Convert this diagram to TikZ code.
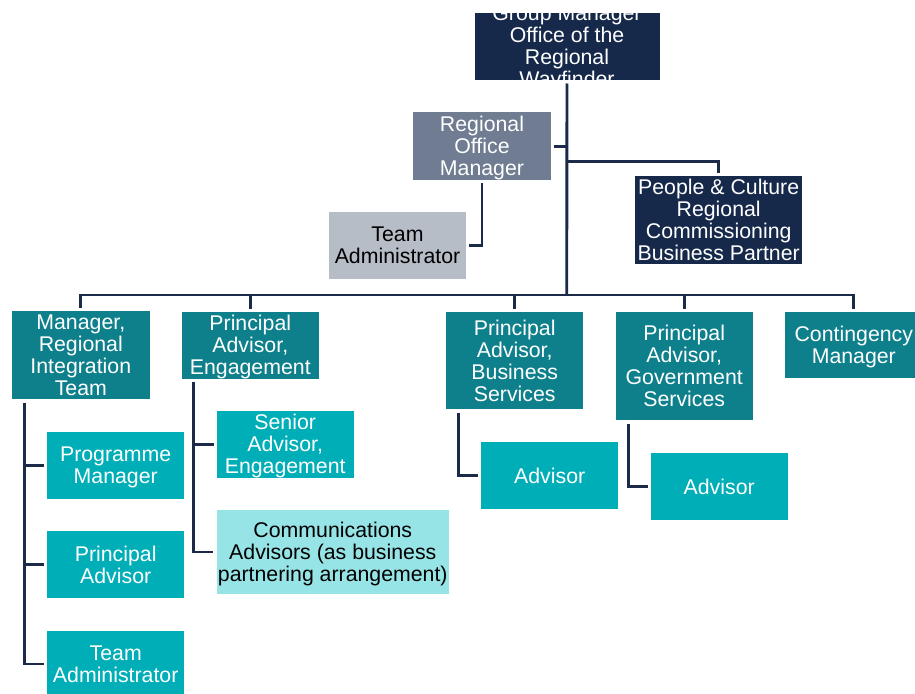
\documentclass[tikz,border=0pt]{standalone}
\usepackage{fontspec}
\setmainfont{Liberation Sans}
\definecolor{navy}{HTML}{16294A}
\definecolor{linec}{HTML}{1B2A48}
\definecolor{slate}{HTML}{6F7C91}
\definecolor{lgrey}{HTML}{B7BDC7}
\definecolor{dteal}{HTML}{0E808C}
\definecolor{teal}{HTML}{00AEB8}
\definecolor{lcyan}{HTML}{97E4E7}
\newcommand{\ls}{\rule[-3.5pt]{0pt}{22pt}}
\newcommand{\boxfont}{\fontsize{21.3}{22}\selectfont\lineskiplimit=-30pt\relax\lineskip=0pt\relax}
\begin{document}
\begin{tikzpicture}[x=1pt,y=-1pt,
  box/.style={rectangle, inner sep=0pt, align=center, text=white,
    font=\boxfont},
  conn/.style={draw=linec, line width=2.9pt},
  gap/.style={shorten <=3pt, shorten >=3pt}]
\clip (0,0) rectangle (915,693);
\fill[white] (0,0) rectangle (915,693);

% top box with clipped text
\node[box, fill=navy, minimum width=185pt, minimum height=67pt,
  path picture={\node[box] at (path picture bounding box.center)
    {\ls Group Manager\\Office of the\\Regional\\Wayfinder\ls};}] (top) at (567,46.8) {};

\node[box, fill=slate, minimum width=137.4pt, minimum height=67.7pt] (rom) at (482,146.2) {\ls Regional\\Office\\Manager\ls};
\node[box, fill=lgrey, text=black, minimum width=137pt, minimum height=66.7pt] (ta1) at (397.5,245.3) {\ls Team\\Administrator\ls};
\node[box, fill=navy, minimum width=167.3pt, minimum height=86pt] (pc) at (718.7,220.3) {\ls People \& Culture\\Regional\\Commissioning\\Business Partner\ls};

\node[box, fill=dteal, minimum width=137.7pt, minimum height=87.3pt] (mgr) at (80.8,355.3) {\ls Manager,\\Regional\\Integration\\Team\ls};
\node[box, fill=dteal, minimum width=137.3pt, minimum height=67pt] (pae) at (250.3,345.2) {\ls Principal\\Advisor,\\Engagement\ls};
\node[box, fill=dteal, minimum width=137.3pt, minimum height=97.6pt] (pabs) at (514.7,360.5) {\ls Principal\\Advisor,\\Business\\Services\ls};
\node[box, fill=dteal, minimum width=137pt, minimum height=108.6pt] (pags) at (684.2,366) {\ls Principal\\Advisor,\\Government\\Services\ls};
\node[box, fill=dteal, minimum width=137.6pt, minimum height=66.6pt] (cont) at (853.8,345) {\ls Contingency\\Manager\ls};

\node[box, fill=teal, minimum width=137.3pt, minimum height=67.3pt] (pm) at (115.7,465.3) {\ls Programme\\Manager\ls};
\node[box, fill=teal, minimum width=137.3pt, minimum height=67.3pt] (pa) at (115.7,564.7) {\ls Principal\\Advisor\ls};
\node[box, fill=teal, minimum width=137.3pt, minimum height=67pt] (ta2) at (115.7,664) {\ls Team\\Administrator\ls};
\node[box, fill=teal, minimum width=137pt, minimum height=67.3pt] (sae) at (285.2,444.7) {\ls Senior\\Advisor,\\Engagement\ls};
\node[box, fill=lcyan, text=black, minimum width=232.3pt, minimum height=84pt] (comm) at (332.8,552) {\ls Communications\\Advisors (as business\\partnering arrangement)\ls};
\node[box, fill=teal, minimum width=137.3pt, minimum height=66.7pt] (adv1) at (549.7,475.7) {\ls Advisor\ls};
\node[box, fill=teal, minimum width=137pt, minimum height=66.7pt] (adv2) at (719.2,486.7) {\ls Advisor\ls};

% connectors
\coordinate (bar) at (566.7,295);
\coordinate (pcj) at (566.7,161.7);
\draw[conn, shorten <=3pt] (top.south) -- (bar);
\draw[conn, shorten <=3pt] (rom.east) -- (rom.east -| bar);
\draw[conn, shorten >=3pt] (pcj) -| (pc.north);
\draw[conn, gap] (rom.south) |- (ta1.east);
\draw[conn, shorten >=3pt] (bar) -| (mgr.north);
\draw[conn, shorten >=3pt] (bar) -| (pae.north);
\draw[conn, shorten >=3pt] (bar) -| (pabs.north);
\draw[conn, shorten >=3pt] (bar) -| (pags.north);
\draw[conn, shorten >=3pt] (bar) -| (cont.north);

\draw[conn, gap] ([xshift=12.7pt]mgr.south west) |- (pm.west);
\draw[conn, gap] ([xshift=12.7pt]mgr.south west) |- (pa.west);
\draw[conn, gap] ([xshift=12.7pt]mgr.south west) |- (ta2.west);
\draw[conn, gap] ([xshift=12.3pt]pae.south west) |- (sae.west);
\draw[conn, gap] ([xshift=12.3pt]pae.south west) |- (comm.west);
\draw[conn, gap] ([xshift=12.3pt]pabs.south west) |- (adv1.west);
\draw[conn, gap] ([xshift=12.6pt]pags.south west) |- (adv2.west);
\end{tikzpicture}
\end{document}
